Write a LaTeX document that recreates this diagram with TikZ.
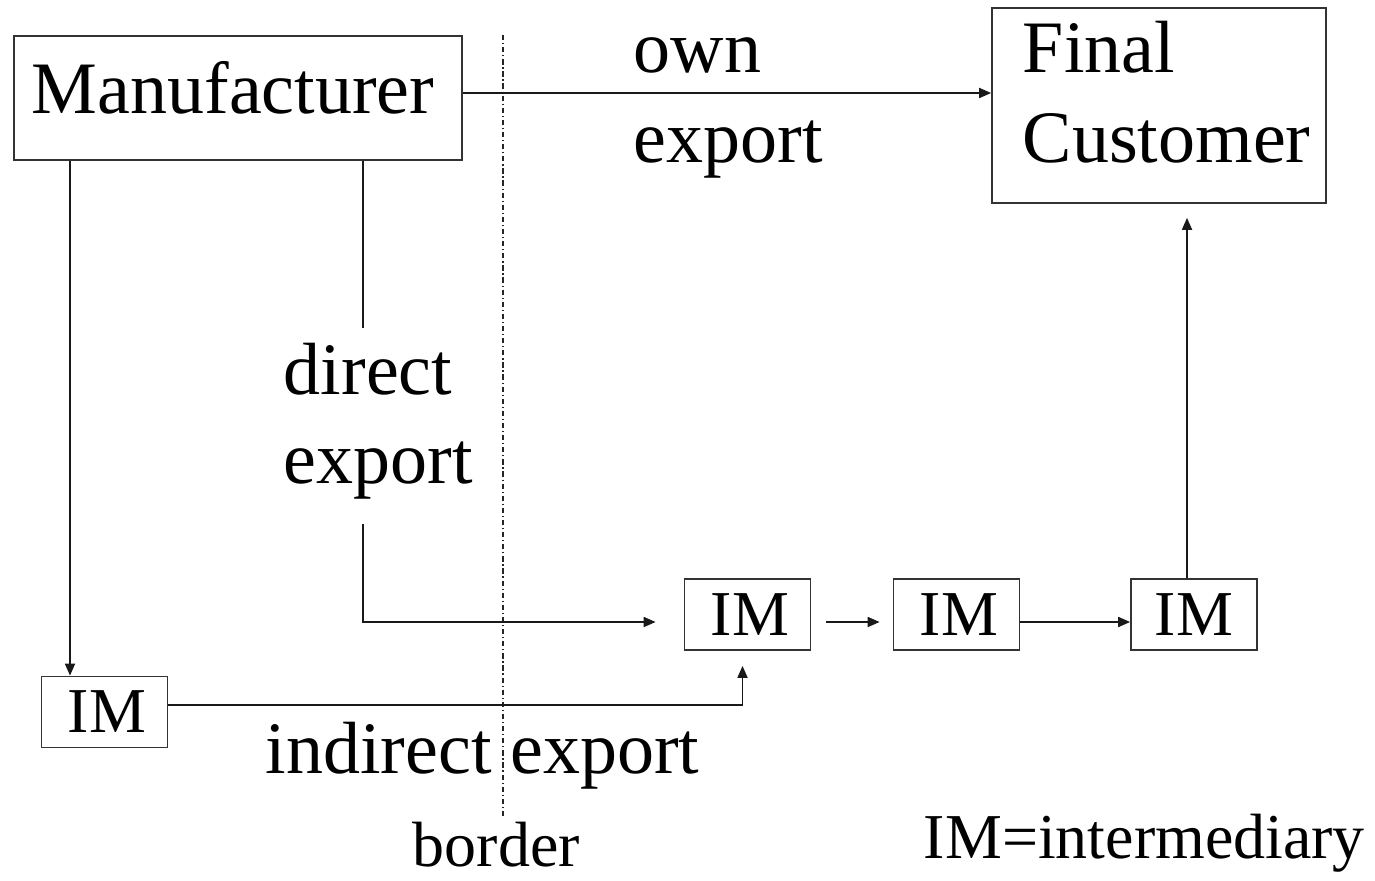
\documentclass[tikz,border=0pt]{standalone}
\usepackage{fontspec}
\setmainfont{Liberation Serif}
\usetikzlibrary{arrows.meta, positioning}

\begin{document}
\begin{tikzpicture}[x=0.02cm, y=-0.02cm,
    >={Triangle[length=0.24cm, width=0.2cm]},
    line width=0.035cm,
    box/.style={draw=black!80, line width=0.035cm, inner sep=0pt},
    bigtext/.style={inner sep=0pt, anchor=base west, font=\fontsize{42.1}{50}\selectfont},
    smalltext/.style={inner sep=0pt, anchor=base west, font=\fontsize{36.4}{44}\selectfont},
    imbox/.style={box, minimum width=2.52cm, minimum height=1.42cm, font=\fontsize{36.4}{44}\selectfont},
    arr/.style={->, draw=black!90}]

    % =================================================================
    % 1. KHUNG VE
    % =================================================================
    \useasboundingbox (0,0) rectangle (1375,881);

    % =================================================================
    % 2. CAC HOP: NHA SAN XUAT, KHACH HANG, TRUNG GIAN
    % =================================================================
    \node[box, minimum width=8.96cm, minimum height=2.48cm] (manuf) at (238,98) {};
    \node[box, minimum width=6.68cm, minimum height=3.9cm] (final) at (1159,105.5) {};

    \node[imbox] (im0) at (104.5,712) {\hspace{0.1cm}IM};
    \node[imbox] (im1) at (747.5,614.5) {\hspace{0.1cm}IM};
    \node[imbox] (im2) at (956.5,614.5) {\hspace{0.1cm}IM};
    \node[imbox] (im3) at (1194,614.5) {IM};

    % Chu trong hai hop lon
    \node[bigtext] (manuftext) at (31,114) {Manufacturer};
    \node[bigtext] (finaltext) at (1022,73) {Final};
    \node[bigtext] (custtext) at (1022,163) {Customer};

    % =================================================================
    % 3. DUONG BIEN GIOI (net cham gach)
    % =================================================================
    \coordinate (btop) at (503,35);
    \coordinate (bbot) at (503,818);
    \draw[line width=0.025cm, black!85, dash pattern=on 3pt off 1.6pt on 0.7pt off 1.6pt] (btop) -- (bbot);
    \node[smalltext] (bordertext) at (412,866) {border};

    % =================================================================
    % 4. CAC TUYEN XUAT KHAU
    % =================================================================
    % Xuat khau rieng
    \coordinate (ownstart) at ([yshift=0.1cm]manuf.east);
    \draw[arr] (ownstart) -- (ownstart -| final.west);
    \node[bigtext] (owntext) at (633,73) {own};
    \node[bigtext] (ownexp) at (633,163) {export};

    % Xuat khau truc tiep
    \coordinate (dtop) at (363,328);
    \coordinate (dbot) at (363,524);
    \coordinate (im1in) at ([yshift=-0.15cm]im1.west);
    \draw[black!90] (manuf.south -| dtop) -- (dtop);
    \draw[arr, shorten >=0.56cm] (dbot) |- (im1in);
    \node[bigtext] (directtext) at (283,395) {direct};
    \node[bigtext] (directexp) at (283,483) {export};

    % Xuat khau gian tiep
    \draw[arr] ([xshift=-0.69cm]im0.north |- manuf.south) -- ([xshift=-0.69cm]im0.north);
    \draw[arr, shorten >=0.3cm] ([yshift=0.14cm]im0.east) -| ([xshift=-0.1cm]im1.south);
    \node[bigtext] (indirecttext) at (265,773) {indirect export};

    % Chuoi trung gian toi khach hang
    \draw[arr, shorten <=0.3cm, shorten >=0.26cm] ([yshift=-0.15cm]im1.east) -- ([yshift=-0.15cm]im2.west);
    \draw[arr] ([yshift=-0.15cm]im2.east) -- ([yshift=-0.15cm]im3.west);
    \draw[arr, shorten >=0.28cm] ([xshift=-0.14cm]im3.north) -- ([xshift=-0.14cm]im3.north |- final.south);

    % Chu thich
    \node[smalltext] (legend) at (923,858) {IM=intermediary};

\end{tikzpicture}
\end{document}
